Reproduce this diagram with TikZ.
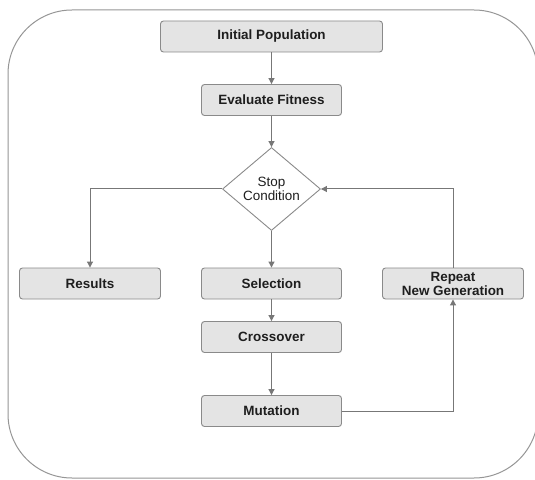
\documentclass[tikz,border=0pt]{standalone}
\usepackage{fontspec}
\setmainfont{Liberation Sans}
\usetikzlibrary{arrows.meta,shapes.geometric}
\definecolor{boxfill}{HTML}{E4E4E4}
\definecolor{boxline}{HTML}{8A8A8A}
\definecolor{lineclr}{HTML}{777777}
\definecolor{txt}{HTML}{1E1E1E}
\begin{document}
\begin{tikzpicture}[x=1bp,y=-1bp,
  frame/.style={draw=boxline!90, line width=1bp, rounded corners=64bp},
  stepbox/.style={draw=boxline, fill=boxfill, line width=0.9bp, rounded corners=3bp,
    minimum height=31bp, align=center, text=txt,
    font=\bfseries\fontsize{13.5}{14}\selectfont, inner sep=1bp},
  decision/.style={diamond, draw=boxline, fill=white, line width=0.9bp,
    minimum width=98bp, minimum height=83bp, inner sep=0pt, align=center, text=txt,
    font=\fontsize{13.5}{14}\selectfont},
  arr/.style={draw=lineclr, line width=1bp, -{Triangle[length=6bp,width=6bp]}}]
\useasboundingbox (0,0) rectangle (535,480);
\fill[white] (0,0) rectangle (535,480);
\begin{scope}
\clip (0,0) rectangle (535,480);
\draw[frame] (8,10) rectangle (538,478);
\end{scope}

\node[stepbox, minimum width=222bp] (init) at (271.5,36.5) {Initial Population};
\node[stepbox, minimum width=140bp] (eval) at (271.5,100) {Evaluate Fitness};
\node[decision] (stop) at (271.5,189) {Stop\\Condition};
\node[stepbox, minimum width=141bp] (res) at (90,283.5) {Results};
\node[stepbox, minimum width=140bp] (sel) at (271.5,283.5) {Selection};
\node[stepbox, minimum width=141bp] (rep) at (453,283.5) {Repeat\\New Generation};
\node[stepbox, minimum width=140bp] (cross) at (271.5,337) {Crossover};
\node[stepbox, minimum width=140bp] (mut) at (271.5,411) {Mutation};

\draw[arr] (init) -- (eval);
\draw[arr] (eval) -- (stop);
\draw[arr] (stop.west) -| (res);
\draw[arr] (stop) -- (sel);
\draw[arr] (sel) -- (cross);
\draw[arr] (cross) -- (mut);
\draw[arr] (mut) -| (rep);
\draw[arr] (rep) |- (stop.east);
\end{tikzpicture}
\end{document}
